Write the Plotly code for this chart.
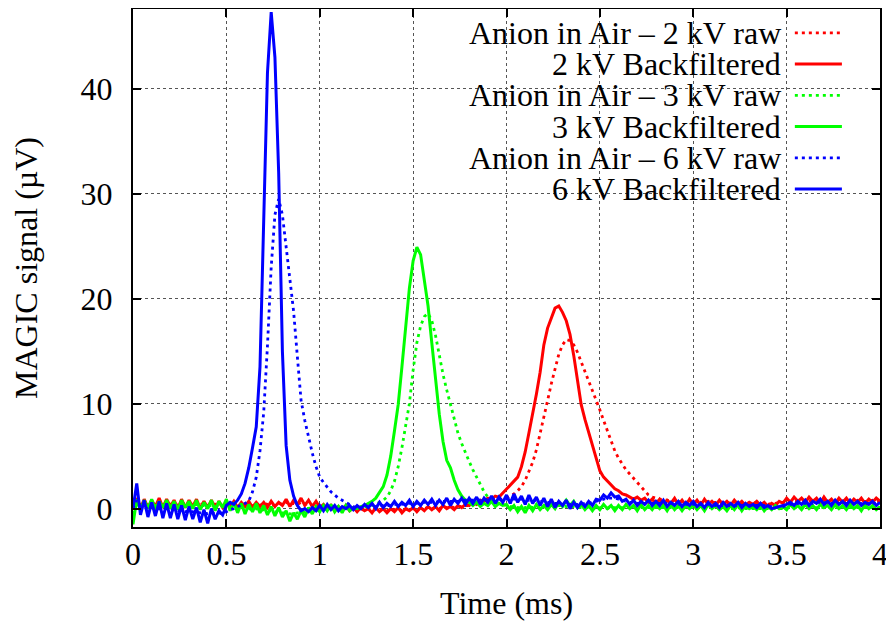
import plotly.graph_objects as go

# Sampling grid of the recorded traces (ms), 0.02 ms step
time_ms = [round(0.02 * i, 2) for i in range(201)]

red_raw = [
    0.3, 0.6, 0.4, 0.5, 0.3, 0.6, 0.4, 0.5, 0.3, 0.5,
    0.4, 0.5, 0.3, 0.6, 0.4, 0.5, 0.3, 0.5, 0.4, 0.5,
    0.3, 0.5, 0.4, 0.5, 0.3, 0.4, 0.3, 0.5, 0.4, 0.4,
    0.3, 0.5, 0.3, 0.4, 0.3, 0.5, 0.4, 0.4, 0.3, 0.5,
    0.4, 0.6, 0.4, 0.5, 0.4, 0.6, 0.4, 0.5, 0.3, 0.4,
    0.2, 0.3, 0.1, 0.2, 0.0, 0.2, 0.0, 0.1, -0.1, 0.1,
    -0.1, 0.0, -0.2, 0.0, -0.2, 0.0, -0.1, 0.0, -0.2, 0.0,
    -0.1, 0.0, -0.2, 0.0, -0.1, 0.0, -0.1, 0.1, 0.0, 0.1,
    0.0, 0.1, 0.0, 0.2, 0.1, 0.2, 0.1, 0.2, 0.2, 0.3,
    0.3, 0.4, 0.4, 0.5, 0.5, 0.6, 0.6, 0.7, 0.8, 0.9,
    1.0, 1.2, 1.4, 1.7, 2.1, 2.7, 3.5, 4.4, 5.6, 7.1,
    8.6, 10.3, 11.9, 13.4, 14.7, 15.6, 16.1, 16.0, 15.6, 14.9,
    14.0, 13.1, 12.2, 11.3, 10.3, 9.4, 8.4, 7.4, 6.4, 5.5,
    4.8, 4.2, 3.7, 3.3, 2.9, 2.5, 2.1, 1.6, 1.3, 1.1,
    1.0, 0.9, 0.8, 0.8, 0.7, 0.8, 0.7, 0.7, 0.6, 0.7,
    0.6, 0.7, 0.6, 0.6, 0.7, 0.6, 0.6, 0.5, 0.6, 0.6,
    0.5, 0.6, 0.6, 0.5, 0.6, 0.5, 0.5, 0.6, 0.5, 0.5,
    0.4, 0.5, 0.5, 0.6, 0.6, 0.7, 0.7, 0.8, 0.7, 0.8,
    0.8, 0.7, 0.8, 0.8, 0.7, 0.8, 0.7, 0.8, 0.7, 0.7,
    0.7, 0.8, 0.7, 0.7, 0.8, 0.7, 0.7, 0.7, 0.8, 0.7, 0.7,
]

red_bf = [
    0.2, 1.0, 0.0, 0.9, 0.1, 0.8, 0.2, 1.0, 0.1, 0.9,
    0.2, 0.8, 0.0, 0.9, 0.1, 0.8, 0.2, 0.9, 0.0, 0.7,
    0.1, 0.8, 0.0, 0.7, 0.1, 0.6, 0.2, 0.7, 0.1, 0.6,
    0.2, 0.7, 0.1, 0.6, 0.2, 0.6, 0.1, 0.7, 0.2, 0.6,
    0.3, 0.9, 0.2, 0.8, 0.4, 1.0, 0.3, 0.8, 0.2, 0.7,
    0.1, 0.4, -0.1, 0.3, -0.2, 0.2, -0.1, 0.3, -0.2, 0.1,
    -0.3, 0.1, -0.2, 0.0, -0.4, 0.1, -0.3, 0.0, -0.4, 0.0,
    -0.3, 0.1, -0.4, 0.0, -0.2, 0.1, -0.3, 0.1, -0.2, 0.2,
    -0.1, 0.2, -0.2, 0.3, 0.0, 0.2, -0.1, 0.3, 0.1, 0.4,
    0.3, 0.6, 0.4, 0.8, 0.7, 1.0, 0.9, 1.2, 1.1, 1.5,
    1.8, 2.2, 2.6, 3.0, 4.0, 5.4, 7.2, 8.9, 10.9, 13.0,
    15.6, 17.2, 18.2, 19.1, 19.3, 18.7, 17.9, 16.6, 14.6, 12.3,
    9.9, 8.5, 7.3, 6.2, 4.9, 3.6, 3.0, 2.6, 2.3, 1.9,
    1.7, 1.4, 1.3, 1.1, 0.9, 1.1, 0.8, 1.0, 0.6, 0.9,
    0.5, 0.9, 0.4, 0.8, 0.5, 1.0, 0.4, 0.8, 0.3, 0.9,
    0.4, 0.8, 0.3, 0.9, 0.4, 0.7, 0.3, 0.8, 0.4, 0.7,
    0.3, 0.8, 0.4, 0.7, 0.3, 0.6, 0.4, 0.7, 0.3, 0.6,
    0.2, 0.5, 0.3, 0.7, 0.5, 1.0, 0.6, 1.1, 0.7, 1.0,
    0.6, 1.1, 0.7, 1.0, 0.5, 1.1, 0.6, 0.9, 0.5, 1.0,
    0.6, 1.0, 0.5, 0.9, 0.6, 1.0, 0.5, 0.9, 0.6, 1.0, 0.7,
]

green_raw = [
    -0.5, 0.4, 0.3, 0.4, 0.3, 0.4, 0.3, 0.4, 0.3, 0.4,
    0.3, 0.4, 0.3, 0.4, 0.3, 0.3, 0.3, 0.4, 0.3, 0.3,
    0.3, 0.3, 0.2, 0.3, 0.2, 0.3, 0.1, 0.2, 0.0, 0.1,
    0.0, 0.0, -0.1, 0.0, -0.2, -0.1, -0.2, -0.2, -0.3, -0.3,
    -0.4, -0.4, -0.5, -0.5, -0.4, -0.4, -0.3, -0.3, -0.2, -0.2,
    -0.1, -0.1, 0.0, 0.0, 0.0, 0.0, 0.1, 0.0, 0.1, 0.1,
    0.1, 0.1, 0.2, 0.2, 0.3, 0.4, 0.6, 0.8, 1.1, 1.7,
    2.6, 4.0, 5.8, 7.9, 10.0, 13.2, 15.8, 17.4, 18.3, 18.6,
    17.9, 16.5, 14.6, 12.8, 11.3, 9.9, 8.5, 7.2, 6.2, 5.3,
    4.5, 3.7, 3.0, 2.3, 1.6, 1.1, 0.8, 0.6, 0.5, 0.4,
    0.3, 0.2, 0.2, 0.1, 0.1, 0.1, 0.2, 0.1, 0.2, 0.2,
    0.3, 0.3, 0.3, 0.4, 0.3, 0.3, 0.2, 0.2, 0.2, 0.1,
    0.1, 0.1, 0.1, 0.0, 0.1, 0.1, 0.1, 0.0, 0.1, 0.1,
    0.1, 0.1, 0.1, 0.1, 0.1, 0.0, 0.1, 0.1, 0.1, 0.1,
    0.1, 0.1, 0.1, 0.1, 0.1, 0.1, 0.1, 0.1, 0.1, 0.1,
    0.1, 0.1, 0.1, 0.0, 0.1, 0.1, 0.0, 0.1, 0.0, 0.0,
    0.0, 0.0, 0.1, 0.0, 0.0, 0.0, 0.0, 0.0, 0.0, 0.0,
    0.0, 0.0, 0.0, 0.0, 0.0, 0.1, 0.1, 0.1, 0.1, 0.1,
    0.1, 0.1, 0.1, 0.1, 0.1, 0.1, 0.1, 0.1, 0.1, 0.1,
    0.1, 0.1, 0.1, 0.1, 0.1, 0.1, 0.1, 0.1, 0.1, 0.1, 0.1,
]

green_bf = [
    -1.5, 0.9, -0.1, 0.8, 0.0, 0.9, -0.1, 0.7, 0.1, 0.8,
    0.0, 0.7, -0.1, 0.8, 0.1, 0.7, 0.0, 0.8, -0.1, 0.6,
    0.0, 0.8, -0.2, 0.7, 0.1, 0.9, -0.2, 0.6, -0.4, 0.5,
    -0.5, 0.4, -0.3, 0.5, -0.4, 0.3, -0.6, 0.2, -0.7, 0.1,
    -0.8, -0.2, -1.2, -0.4, -1.0, -0.2, -0.8, 0.1, -0.5, 0.2,
    -0.3, 0.3, -0.2, 0.4, -0.3, 0.2, -0.4, 0.3, -0.2, 0.1,
    0.0, 0.2, 0.3, 0.5, 0.7, 1.0, 1.5, 2.1, 3.2, 5.0,
    7.4, 9.9, 13.5, 17.5, 21.0, 23.6, 24.9, 24.2, 21.8, 19.3,
    15.8, 12.4, 9.0, 6.4, 4.6, 3.9, 2.7, 1.8, 1.2, 0.8,
    0.6, 0.3, 0.6, 0.2, 0.5, 0.3, 0.7, 0.2, 0.5, 0.3,
    0.4, -0.1, 0.3, -0.3, 0.2, -0.4, 0.3, -0.2, 0.4, -0.1,
    0.3, -0.1, 0.4, 0.0, 0.6, 0.2, 0.8, 0.3, 0.7, 0.1,
    0.4, -0.1, 0.3, -0.2, 0.3, -0.1, 0.4, 0.0, 0.3, -0.2,
    0.3, -0.1, 0.4, 0.0, 0.3, -0.2, 0.4, -0.1, 0.3, -0.1,
    0.4, 0.0, 0.3, -0.2, 0.4, -0.1, 0.3, -0.2, 0.3, 0.0,
    0.4, -0.1, 0.3, -0.2, 0.4, 0.0, 0.3, -0.1, 0.2, -0.2,
    0.3, -0.1, 0.4, -0.2, 0.3, 0.0, 0.2, -0.1, 0.3, -0.2,
    0.2, -0.1, 0.3, 0.0, 0.2, -0.1, 0.4, 0.0, 0.3, -0.1,
    0.4, 0.0, 0.3, -0.1, 0.4, 0.1, 0.3, -0.1, 0.4, 0.0,
    0.3, -0.1, 0.4, 0.0, 0.3, -0.2, 0.4, 0.0, 0.3, -0.1, 0.2,
]

blue_raw = [
    0.0, 0.8, 0.2, 0.1, 0.0, 0.1, -0.1, 0.0, -0.1, 0.0,
    -0.2, -0.1, -0.2, -0.2, -0.3, -0.2, -0.3, -0.3, -0.4, -0.4,
    -0.5, -0.4, -0.5, -0.4, -0.5, -0.3, -0.1, 0.0, 0.2, 0.3,
    0.5, 0.7, 1.6, 3.0, 5.5, 9.2, 15.5, 23.0, 28.0, 29.5,
    28.0, 25.0, 22.0, 18.8, 14.5, 10.3, 8.4, 6.7, 5.3, 4.0,
    3.0, 2.5, 2.0, 1.6, 1.3, 1.0, 0.8, 0.6, 0.4, 0.2,
    0.1, 0.1, 0.1, 0.2, 0.2, 0.2, 0.3, 0.3, 0.3, 0.3,
    0.4, 0.4, 0.4, 0.5, 0.5, 0.5, 0.5, 0.6, 0.6, 0.6,
    0.6, 0.6, 0.7, 0.7, 0.7, 0.7, 0.7, 0.7, 0.8, 0.8,
    0.8, 0.8, 0.8, 0.8, 0.8, 0.9, 0.9, 0.9, 0.9, 0.9,
    0.9, 0.9, 0.9, 0.9, 0.9, 0.8, 0.8, 0.8, 0.8, 0.7,
    0.7, 0.6, 0.6, 0.5, 0.5, 0.4, 0.4, 0.4, 0.4, 0.4,
    0.4, 0.5, 0.5, 0.6, 0.7, 0.8, 0.9, 1.0, 1.0, 1.0,
    0.9, 0.8, 0.7, 0.6, 0.6, 0.5, 0.5, 0.5, 0.5, 0.5,
    0.5, 0.5, 0.5, 0.5, 0.5, 0.4, 0.4, 0.4, 0.4, 0.4,
    0.4, 0.4, 0.4, 0.4, 0.4, 0.4, 0.3, 0.3, 0.3, 0.3,
    0.3, 0.3, 0.3, 0.3, 0.3, 0.3, 0.3, 0.3, 0.3, 0.3,
    0.2, 0.2, 0.1, 0.2, 0.2, 0.3, 0.4, 0.4, 0.5, 0.5,
    0.5, 0.5, 0.5, 0.6, 0.6, 0.6, 0.5, 0.5, 0.5, 0.5,
    0.5, 0.5, 0.5, 0.5, 0.5, 0.5, 0.5, 0.5, 0.5, 0.5, 0.5,
]

blue_bf = [
    0.0, 2.4, -0.6, 0.8, -0.8, 0.6, -0.7, 0.7, -0.9, 0.5,
    -0.9, 0.4, -1.0, 0.3, -1.1, 0.2, -1.0, 0.1, -1.3, -0.1,
    -1.4, 0.0, -1.0, -0.2, -0.6, 0.3, 0.6, 0.4, 0.8, 1.4,
    2.4, 3.9, 5.8, 7.8, 13.5, 29.0, 41.5, 47.3, 43.0, 32.0,
    15.0, 6.0, 2.7, 1.2, 0.3, -0.2, 0.0, -0.3, 0.1, -0.2,
    0.3, -0.2, 0.4, -0.1, 0.3, -0.2, 0.2, 0.0, 0.3, -0.1,
    0.3, 0.0, 0.4, 0.1, 0.5, 0.0, 0.6, 0.1, 0.5, 0.2,
    0.7, 0.2, 0.6, 0.3, 0.8, 0.2, 0.7, 0.3, 0.8, 0.4,
    0.9, 0.3, 0.8, 0.4, 1.0, 0.3, 0.9, 0.5, 1.0, 0.4,
    1.0, 0.5, 1.1, 0.4, 1.0, 0.6, 1.2, 0.5, 1.1, 0.6,
    1.3, 0.5, 1.4, 0.6, 1.2, 0.4, 1.3, 0.5, 1.1, 0.3,
    1.0, 0.2, 0.9, 0.1, 0.7, 0.3, 0.8, 0.0, 0.6, 0.1,
    0.6, 0.2, 0.7, 0.3, 0.9, 0.8, 1.3, 1.0, 1.5, 1.1,
    1.2, 0.7, 0.9, 0.4, 0.8, 0.3, 0.7, 0.4, 0.8, 0.3,
    0.7, 0.3, 0.8, 0.2, 0.6, 0.3, 0.7, 0.2, 0.6, 0.3,
    0.7, 0.2, 0.5, 0.1, 0.6, 0.2, 0.5, 0.1, 0.6, 0.2,
    0.5, 0.2, 0.6, 0.1, 0.5, 0.2, 0.4, 0.1, 0.5, 0.1,
    0.3, 0.0, 0.1, 0.2, 0.3, 0.4, 0.6, 0.3, 0.7, 0.4,
    0.8, 0.3, 0.7, 0.5, 0.9, 0.4, 0.7, 0.3, 0.8, 0.4,
    0.7, 0.3, 0.8, 0.4, 0.7, 0.3, 0.6, 0.4, 0.7, 0.3, 0.6,
]

series_names = [
    "Anion in Air \u2013 2 kV raw",
    "2 kV Backfiltered",
    "Anion in Air \u2013 3 kV raw",
    "3 kV Backfiltered",
    "Anion in Air \u2013 6 kV raw",
    "6 kV Backfiltered",
]
series_values = [red_raw, red_bf, green_raw, green_bf, blue_raw, blue_bf]
series_colors = ["#ff0000", "#ff0000", "#00ff00", "#00ff00", "#0000ff", "#0000ff"]
series_dash = ["dot", "solid", "dot", "solid", "dot", "solid"]

x_ticks = [0, 0.5, 1, 1.5, 2, 2.5, 3, 3.5, 4]
x_ticktext = ["0", "0.5", "1", "1.5", "2", "2.5", "3", "3.5", "4"]
y_ticks = [0, 10, 20, 30, 40]

FONT = "Liberation Serif"
FS = 32


def line_style(col, dash):
    if dash == "dot":
        return dict(color=col, width=2.8, dash="3px,4px")
    return dict(color=col, width=3, dash="solid")


fig = go.Figure()
for name, vals, col, dash in zip(series_names, series_values, series_colors, series_dash):
    fig.add_trace(go.Scatter(
        x=time_ms, y=vals, mode="lines", name=name, showlegend=False,
        line=line_style(col, dash),
    ))

# Manual gnuplot-style key: text right-aligned, sample line to its right
row_y = [0.9541, 0.8938, 0.8334, 0.7731, 0.7127, 0.6524]
shapes = [dict(type="rect", xref="paper", yref="paper", x0=0.290, x1=0.973, y0=0.616, y1=1.0,
               fillcolor="white", line=dict(width=0), layer="between")]
annotations = []
for name, col, dash, yy in zip(series_names, series_colors, series_dash, row_y):
    annotations.append(dict(text=name, xref="paper", yref="paper", x=0.870, y=yy,
                            xanchor="right", yanchor="middle", showarrow=False,
                            font=dict(family=FONT, size=FS, color="black")))
    shapes.append(dict(type="line", xref="paper", yref="paper", x0=0.886, x1=0.949, y0=yy, y1=yy,
                       line=line_style(col, dash), layer="above"))

axis_common = dict(
    showline=True, linecolor="black", linewidth=2, mirror="ticks",
    ticks="inside", ticklen=8, tickwidth=1.5, tickcolor="black",
    showgrid=True, gridcolor="#555555", gridwidth=1, griddash="dot",
    zeroline=False, automargin=False,
    tickfont=dict(family=FONT, size=FS, color="black"),
)

# page body has an 8px margin, so the figure is sized to fit the window
fig.update_layout(
    width=886, height=619,
    margin=dict(l=125, r=14, t=1, b=100),
    paper_bgcolor="white", plot_bgcolor="white",
    font=dict(family=FONT, size=FS, color="black"),
    xaxis=dict(range=[0, 4], tickvals=x_ticks, ticktext=x_ticktext,
               title=dict(text="Time (ms)", font=dict(family=FONT, size=FS), standoff=20),
               ticklabelstandoff=-2, **axis_common),
    yaxis=dict(range=[-1.75, 47.6], tickvals=y_ticks,
               title=dict(text="MAGIC signal (\u00b5V)", font=dict(family=FONT, size=FS), standoff=33),
               ticklabelstandoff=12, **axis_common),
    shapes=shapes, annotations=annotations,
)

fig.write_html("out.html")
